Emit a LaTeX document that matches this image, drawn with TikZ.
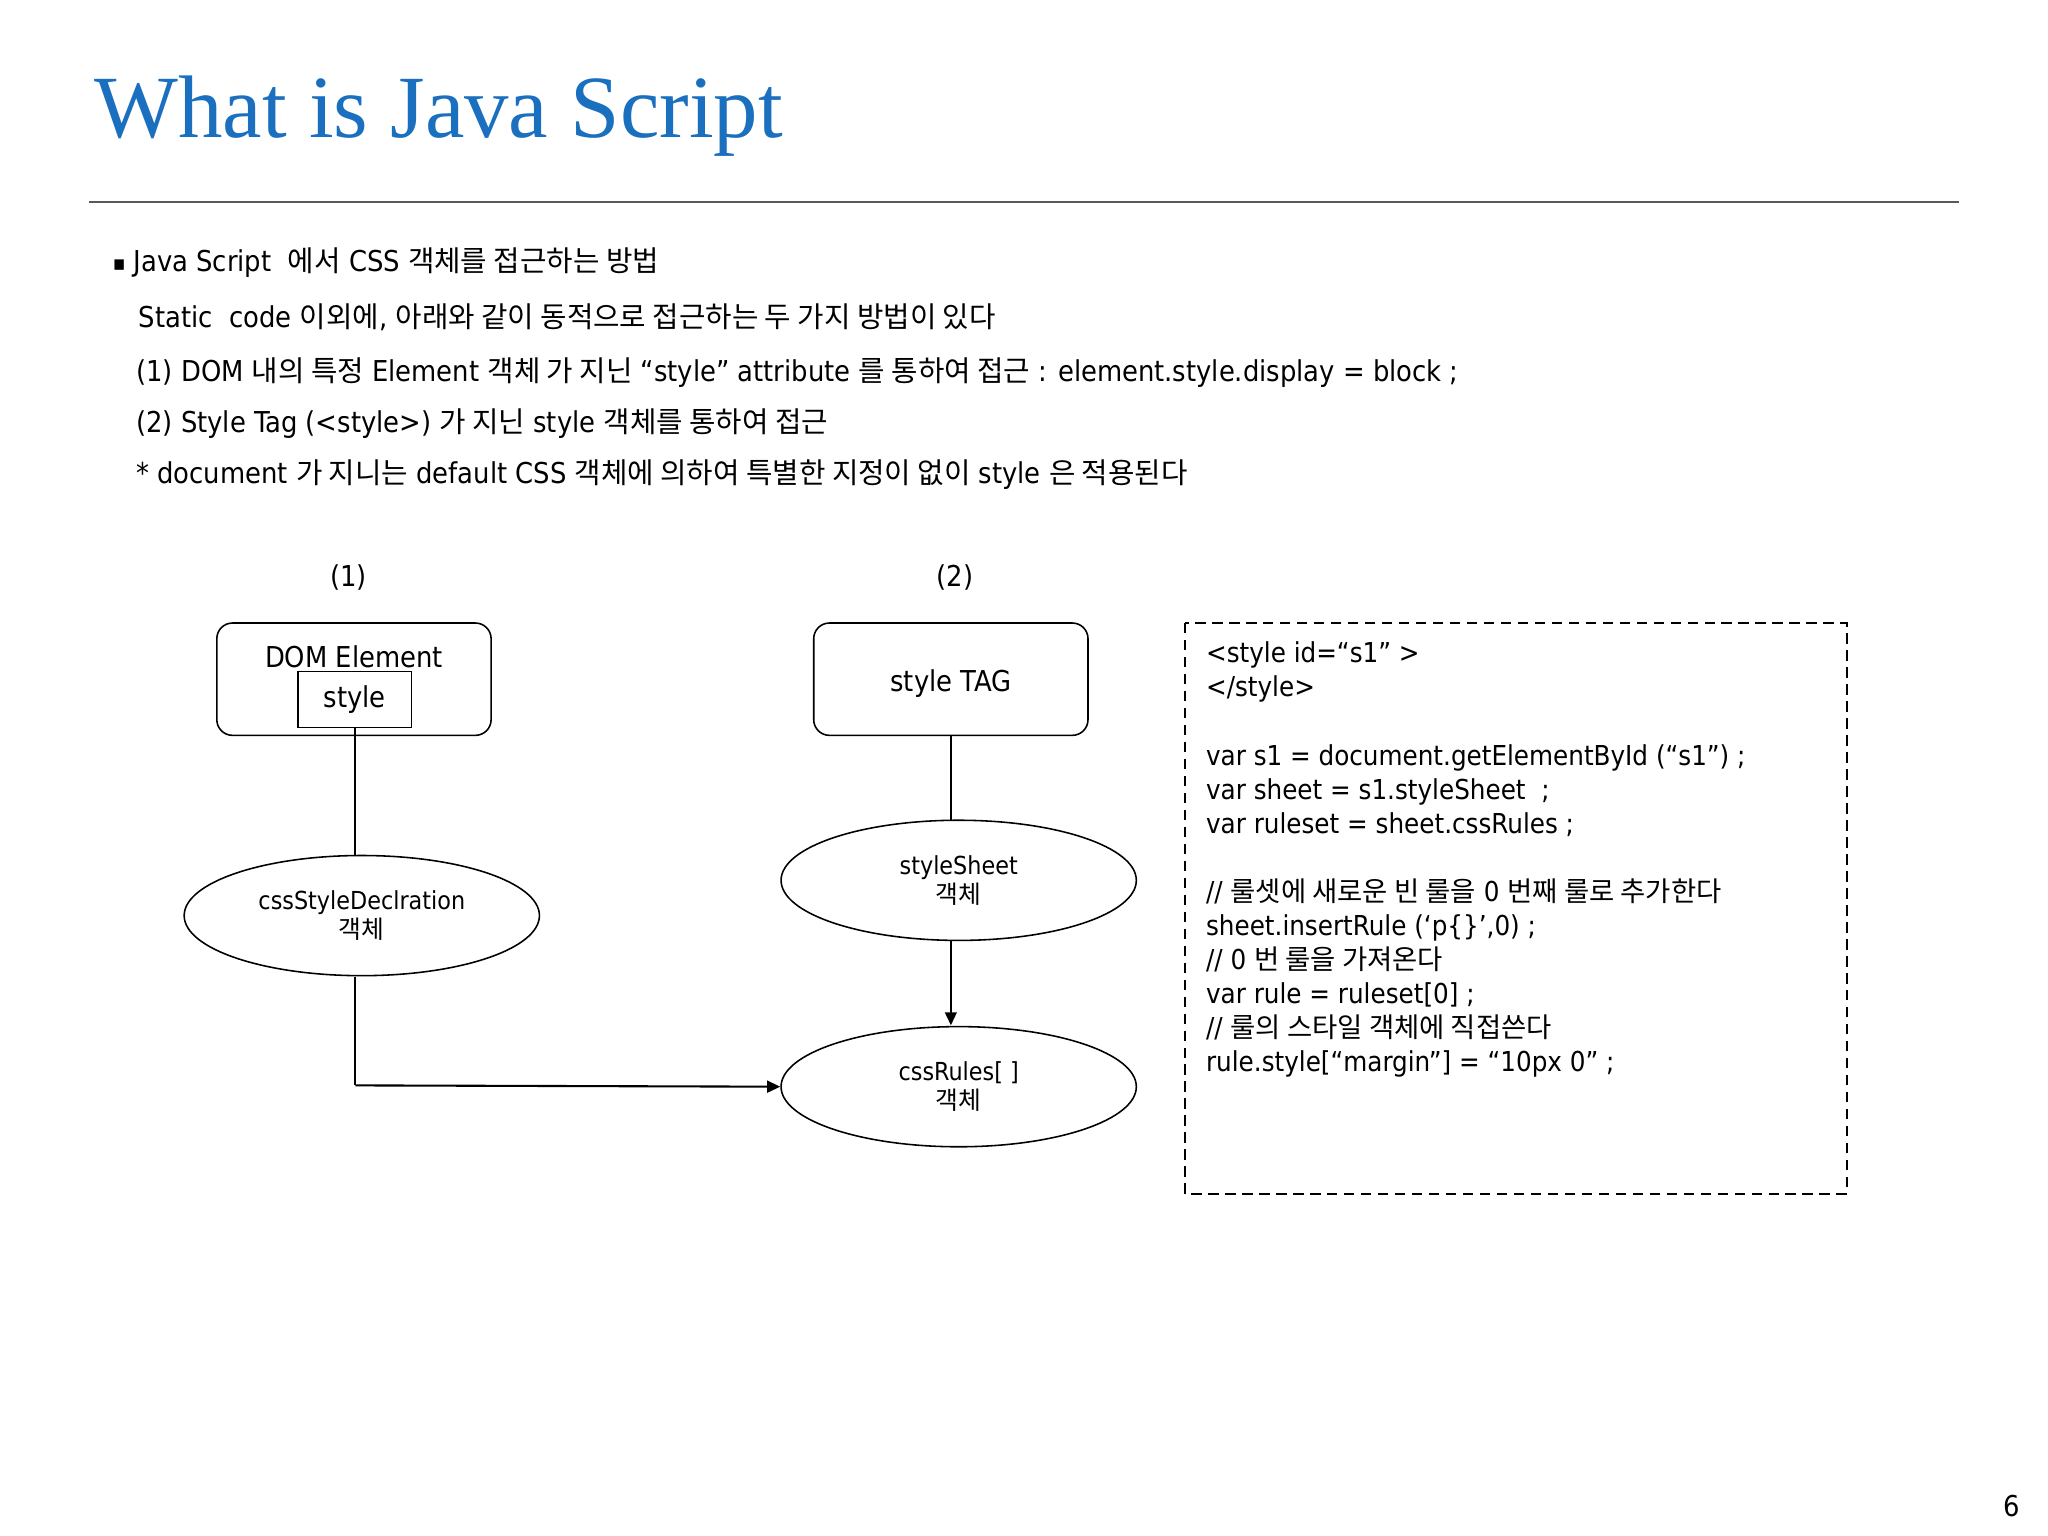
\documentclass[tikz,border=0pt]{standalone}
\usepackage{fontspec}
\setmainfont{DejaVu Sans Condensed}
\newfontfamily\titlefont{Liberation Serif}
\newfontfamily\kr{Noto Sans CJK KR}
\usetikzlibrary{shapes.geometric,arrows.meta}
\definecolor{titleblue}{HTML}{1A6FBF}
\begin{document}
\begin{tikzpicture}[x=0.5pt,y=-0.5pt,
  txt/.style={anchor=base west,inner sep=0,font=\fontsize{11}{13}\selectfont},
  code/.style={anchor=base west,inner sep=0,font=\fontsize{10.5}{12}\selectfont},
  rbox/.style={draw,rounded corners=6pt,line width=0.6pt,minimum width=105pt,minimum height=43pt},
  ell/.style={draw,ellipse,line width=0.6pt,minimum width=136pt,minimum height=46pt,align=center,font=\fontsize{9.5}{11}\selectfont},
  conn/.style={line width=0.8pt},
  arr/.style={line width=0.8pt,-{Triangle[length=5pt,width=4.5pt]}}]
\useasboundingbox (0,0) rectangle (1568,1176);
\node[anchor=base west,inner sep=0,text=titleblue,font=\titlefont\fontsize{34}{40}\selectfont] (title) at (72,105) {What is Java Script};
\draw[gray!70!black,line width=0.8pt] (68,155) -- (1500,155);
\node[txt] (b0) at (86,207) {\fontsize{8}{8}\selectfont ▪};
\node[txt] (l1) at (102,208) {Java Script \ {\kr 에서} CSS {\kr 객체를 접근하는 방법}};
\node[txt] (l2) at (106,251) {Static \ code {\kr 이외에}, {\kr 아래와 같이 동적으로 접근하는 두 가지 방법이 있다}};
\node[txt] (l3) at (104,292) {(1) DOM {\kr 내의 특정} Element {\kr 객체 가 지닌} “style” attribute {\kr 를 통하여 접근} : element.style.display = block ;};
\node[txt] (l4) at (104,331) {(2) Style Tag (<style>) {\kr 가 지닌} style {\kr 객체를 통하여 접근}};
\node[txt] (l5) at (104,370) {* document {\kr 가 지니는} default CSS {\kr 객체에 의하여 특별한 지정이 없이} style {\kr 은 적용된다}};
\node[txt,anchor=base] (n1) at (267,449) {(1)};
\node[txt,anchor=base] (n2) at (731,449) {(2)};
\node[rbox] (dom) at (271,520) {};
\node[txt,anchor=base] (domt) at (271,511) {DOM Element};
\node[draw,line width=0.6pt,minimum width=43.5pt,minimum height=21.5pt,inner sep=0,font=\fontsize{11}{13}\selectfont] (sty) at (271.5,535.5) {style};
\node[rbox,font=\fontsize{11}{13}\selectfont] (tag) at (728,520) {\raisebox{-12pt}{style TAG}};
\node[ell] (decl) at (277,701) {cssStyleDeclration\\{\kr 객체}};
\node[ell] (sheet) at (734,674) {styleSheet\\{\kr 객체}};
\node[ell] (rules) at (734,832) {cssRules[ ]\\{\kr 객체}};
\draw[conn] (sty.south) -- (sty.south |- decl.north);
\draw[conn] (728,563) -- (728,628);
\draw[arr] (728,720) -- (728,785);
\draw[conn] (272,748) -- (272,831);
\coordinate (c1) at (272,831);
\draw[arr] (c1) -- (rules.west);
\draw[dashed,line width=0.8pt,dash pattern=on 4pt off 2.5pt] (907,477) rectangle (1414,914);
\node[code] at (923,507) {<style id=“s1” >};
\node[code] at (923,533) {</style>};
\node[code] at (923,586) {var s1 = document.getElementById (“s1”) ;};
\node[code] at (923,612) {var sheet = s1.styleSheet \ ;};
\node[code] at (923,638) {var ruleset = sheet.cssRules ;};
\node[code] at (923,690) {// {\kr 룰셋에 새로운 빈 룰을} 0 {\kr 번째 룰로 추가한다}};
\node[code] at (923,716) {sheet.insertRule (‘p\{\}’,0) ;};
\node[code] at (923,742) {// 0 {\kr 번 룰을 가져온다}};
\node[code] at (923,768) {var rule = ruleset[0] ;};
\node[code] at (923,794) {// {\kr 룰의 스타일 객체에 직접쓴다}};
\node[code] at (923,820) {rule.style[“margin”] = “10px 0” ;};
\node[txt,anchor=base] (pg) at (1540,1161) {6};
\end{tikzpicture}
\end{document}
